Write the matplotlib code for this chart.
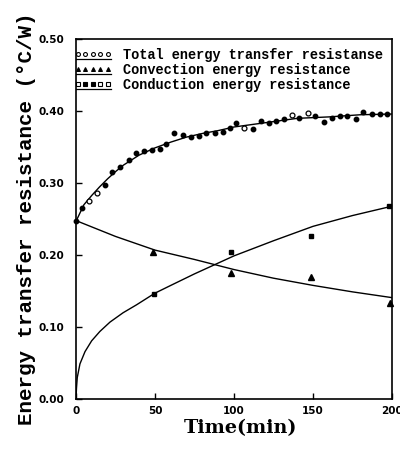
import numpy as np
import matplotlib.pyplot as plt
from matplotlib.lines import Line2D

plt.close('all')

# total energy transfer resistance - measured points (filled / open markers)
tot_t = [0, 3.6, 18.3, 23.1, 27.8, 33.6, 37.9, 42.9, 48.4, 53, 57.2, 61.8, 67.7,
         73, 77.8, 82.4, 87.7, 93, 97.2, 101.4, 111.9, 117.2, 122, 126.6, 131.9,
         141.3, 151.4, 157.1, 162, 167, 171.8, 177.1, 181.7, 187.2, 192.2, 197]
tot_r = [0.247, 0.266, 0.298, 0.316, 0.323, 0.332, 0.342, 0.344, 0.346, 0.347,
         0.354, 0.369, 0.367, 0.364, 0.365, 0.369, 0.370, 0.371, 0.376, 0.383,
         0.375, 0.387, 0.383, 0.386, 0.389, 0.391, 0.393, 0.385, 0.391, 0.393,
         0.393, 0.389, 0.399, 0.396, 0.396, 0.396]
tot_open_t = [8.4, 13, 106.6, 136.7, 147]
tot_open_r = [0.275, 0.286, 0.376, 0.395, 0.398]
# fitted curve
tot_fit_t = [0, 5, 10, 15, 20, 25, 30, 40, 50, 60, 70, 80, 90, 100, 120, 140, 160, 180, 200]
tot_fit_r = [0.247, 0.270, 0.283, 0.295, 0.306, 0.316, 0.325, 0.339, 0.349, 0.357,
             0.364, 0.369, 0.373, 0.378, 0.384, 0.390, 0.392, 0.395, 0.396]

# convection energy resistance
conv_t = [49, 98, 149, 199]
conv_r = [0.205, 0.175, 0.169, 0.134]
conv_fit_t = [0, 25, 50, 75, 100, 125, 150, 175, 200]
conv_fit_r = [0.248, 0.226, 0.207, 0.194, 0.180, 0.168, 0.158, 0.149, 0.141]

# conduction energy resistance
cond_t = [49.4, 98.2, 148.7, 198]
cond_r = [0.146, 0.205, 0.226, 0.268]
cond_fit_t = [0, 0.3, 0.8, 2.5, 5.7, 9.9, 15.1, 21.5, 29.8, 38.3, 49.8, 60, 75,
              100, 125, 150, 175, 200]
cond_fit_r = [0.0, 0.015, 0.030, 0.049, 0.066, 0.081, 0.094, 0.107, 0.120, 0.131,
              0.147, 0.158, 0.174, 0.199, 0.220, 0.240, 0.255, 0.268]

labels = ['Total energy transfer resistanse',
          'Convection energy resistance',
          'Conduction energy resistance']

fig = plt.figure(figsize=(4, 4.5), dpi=100)
ax = fig.add_axes([0.19, 0.113, 0.79, 0.80])

ax.plot(tot_fit_t, tot_fit_r, color='black', lw=1.0)
ax.plot(conv_fit_t, conv_fit_r, color='black', lw=1.0)
ax.plot(cond_fit_t, cond_fit_r, color='black', lw=1.0)

ax.plot(tot_t, tot_r, 'o', color='black', ms=3.2, clip_on=False)
ax.plot(tot_open_t, tot_open_r, 'o', mfc='white', mec='black', mew=0.9, ms=3.5)
ax.plot(conv_t, conv_r, '^', color='black', ms=3.8, clip_on=False)
ax.plot(cond_t, cond_r, 's', color='black', ms=3.5, clip_on=False)

ax.set_xlim(0, 200)
ax.set_ylim(0, 0.5)
ax.set_xticks([0, 50, 100, 150, 200])
ax.set_yticks([0, 0.1, 0.2, 0.3, 0.4, 0.5])
ax.set_yticklabels(['0.00', '0.10', '0.20', '0.30', '0.40', '0.50'])
ax.tick_params(direction='in', length=4, width=1, labelsize=7.5)
ax.tick_params(axis='y', pad=8.5)
ax.tick_params(axis='x', pad=5)
for lab in ax.get_xticklabels() + ax.get_yticklabels():
    lab.set_fontweight('bold')
for s in ax.spines.values():
    s.set_linewidth(1.2)

ax.set_xlabel('Time(min)', family='DejaVu Serif', fontweight='bold', fontsize=13.8)
ax.xaxis.set_label_coords(0.522, -0.055)
ax.set_ylabel('Energy transfer resistance (\u00b0C/W)', family='Liberation Mono',
              fontweight='bold', fontsize=15)
ax.yaxis.set_label_coords(-0.125, 0.5)

# hand drawn legend in the top left corner
rows_y = [0.956, 0.914, 0.872]
mk_x = np.linspace(0.005, 0.10, 5)
styles = [('o', ['white'] * 5),
          ('^', ['black'] * 5),
          ('s', ['white', 'black', 'black', 'white', 'white'])]
for y, (m, faces), lab in zip(rows_y, styles, labels):
    for x, fc in zip(mk_x, faces):
        ax.plot(x, y + 0.004, m, mfc=fc, mec='black', ms=2.8, mew=0.8,
                transform=ax.transAxes, clip_on=False)
    ax.add_line(Line2D([-0.01, 0.11], [y - 0.01, y - 0.01], color='black', lw=0.9,
                       transform=ax.transAxes))
    ax.text(0.149, y, lab, transform=ax.transAxes, family='Liberation Mono',
            fontweight='bold', fontsize=9.8, va='center', ha='left')

fig.savefig('out.png', dpi=100)
